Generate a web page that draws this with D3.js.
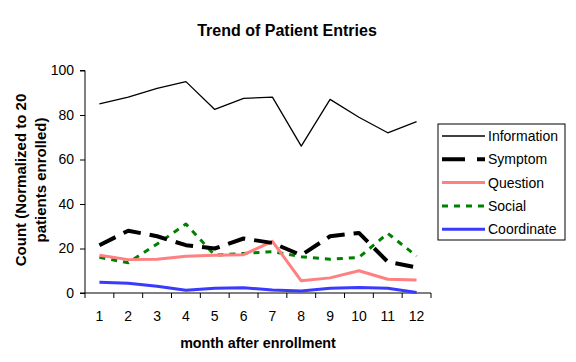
<!DOCTYPE html>
<html>
<head>
<meta charset="utf-8">
<script src="https://cdn.jsdelivr.net/npm/d3@7"></script>
<style>
  body { margin: 0; background: #fff; }
  text { font-family: "Liberation Sans", Arial, sans-serif; }
</style>
</head>
<body>
<svg id="chart" width="576" height="362"></svg>
<script>
"use strict";

let months = [1, 2, 3, 4, 5, 6, 7, 8, 9, 10, 11, 12]
let information = [85, 88, 92, 95, 82.5, 87.5, 88, 66, 87, 79, 72, 77]
let symptom = [21.5, 28, 25.5, 21.5, 20, 24.5, 22.5, 17, 25.5, 27, 14, 11.5]
let question = [17, 15, 15.2, 16.5, 17, 17.2, 23.2, 5.5, 6.8, 10, 6.2, 5.8]
let social = [16, 13.6, 22, 31, 17, 17.8, 18.6, 16.3, 15.2, 16, 26.8, 16.6]
let coordinate = [4.8, 4.4, 3, 1.2, 2.1, 2.4, 1.3, 0.9, 2.1, 2.5, 2.1, 0.2]
let yTicks = [0, 20, 40, 60, 80, 100]

let seriesList = [
  {name: "Information", values: information, color: "#000000", width: 1.3, dash: null},
  {name: "Symptom", values: symptom, color: "#000000", width: 4, dash: "18,9"},
  {name: "Question", values: question, color: "#ff8080", width: 3, dash: null},
  {name: "Social", values: social, color: "#008000", width: 3, dash: "6,6"},
  {name: "Coordinate", values: coordinate, color: "#3a3aff", width: 3, dash: null}
]

let svg = d3.select("#chart")
let plot = {left: 85, right: 431, top: 70.5, bottom: 293}

let x = d3.scaleBand().domain(months).range([plot.left, plot.right])
let y = d3.scaleLinear().domain([0, 100]).range([plot.bottom, plot.top])

// axes
let xg = svg.append("g")
    .attr("transform", "translate(0," + plot.bottom + ")")
    .call(d3.axisBottom(x).tickSize(0).tickPadding(18))
xg.select(".domain").attr("stroke", "#000").attr("d", "M" + plot.left + ",0H" + plot.right)
xg.selectAll("text").attr("font-size", 14).attr("fill", "#000")
// tick marks sit between categories
xg.selectAll("line.sep")
  .data(d3.range(months.length + 1))
  .join("line")
    .attr("class", "sep")
    .attr("x1", i => plot.left + i * x.step())
    .attr("x2", i => plot.left + i * x.step())
    .attr("y1", 0).attr("y2", 5)
    .attr("stroke", "#000")

let yg = svg.append("g")
    .attr("transform", "translate(" + plot.left + ",0)")
    .call(d3.axisLeft(y).tickValues(yTicks).tickSize(5).tickPadding(6))
yg.select(".domain").attr("d", "M-5," + plot.top + "H0V" + plot.bottom + "H-5")
yg.selectAll("text").attr("font-size", 14).attr("fill", "#000")

// lines
let line = d3.line()
    .x((d, i) => x(months[i]) + x.bandwidth() / 2)
    .y(d => y(d))

svg.append("g").selectAll("path")
  .data(seriesList.slice().reverse())
  .join("path")
    .attr("d", s => line(s.values))
    .attr("fill", "none")
    .attr("stroke", s => s.color)
    .attr("stroke-width", s => s.width)
    .attr("stroke-dasharray", s => s.dash)
    .attr("stroke-linejoin", "round")

// title + axis titles
svg.append("text")
    .attr("x", 287).attr("y", 36)
    .attr("text-anchor", "middle")
    .attr("font-size", 16).attr("font-weight", "bold")
    .text("Trend of Patient Entries")

svg.append("text")
    .attr("x", 258).attr("y", 348)
    .attr("text-anchor", "middle")
    .attr("font-size", 14.3).attr("font-weight", "bold")
    .text("month after enrollment")

let yTitle = svg.append("text")
    .attr("transform", "translate(26,180) rotate(-90)")
    .attr("text-anchor", "middle")
    .attr("font-size", 15).attr("font-weight", "bold")
yTitle.append("tspan").attr("x", 0).attr("dy", 0).text("Count (Normalized to 20")
yTitle.append("tspan").attr("x", 0).attr("dy", 20).text("patients enrolled)")

// legend
let legend = svg.append("g").attr("transform", "translate(438,124)")
legend.append("rect")
    .attr("width", 127).attr("height", 116)
    .attr("fill", "#fff").attr("stroke", "#000").attr("stroke-width", 1)

let item = legend.selectAll("g.item")
  .data(seriesList)
  .join("g")
    .attr("class", "item")
    .attr("transform", (s, i) => "translate(0," + (12 + i * 23.3) + ")")
item.append("line")
    .attr("x1", 4).attr("x2", 47)
    .attr("stroke", s => s.color)
    .attr("stroke-width", s => s.width)
    .attr("stroke-dasharray", s => s.name === "Symptom" ? "23,12" : s.dash)
item.append("text")
    .attr("x", 50).attr("dy", "0.36em")
    .attr("font-size", 14)
    .text(s => s.name)
</script>
</body>
</html>
